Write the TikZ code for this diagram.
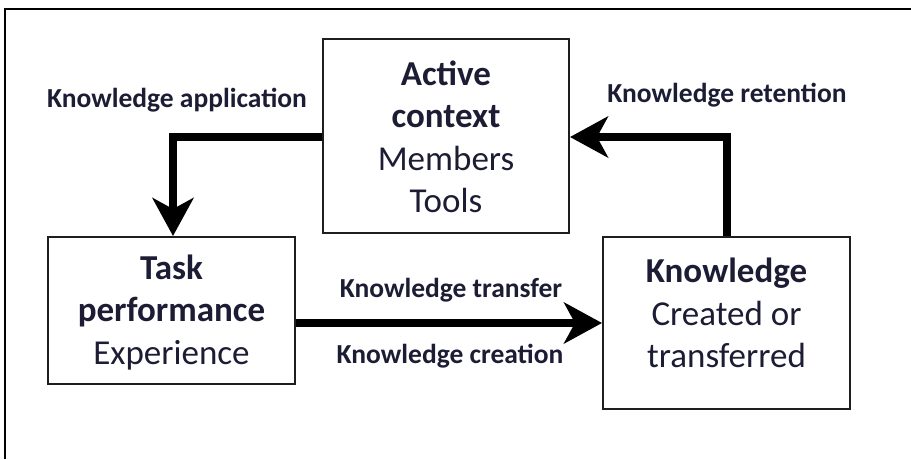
\documentclass[tikz,border=0pt]{standalone}
\usepackage{fontspec}
\setmainfont{Carlito}
\usetikzlibrary{arrows.meta}
\definecolor{labelink}{RGB}{28,28,52}
\definecolor{boxline}{RGB}{30,30,30}
\tikzset{
  box/.style={draw=boxline, line width=2pt, minimum width=247pt, inner sep=0pt},
  boxtext/.style={align=center, font=\fontsize{35}{42.5}\selectfont, text=labelink, inner sep=0pt},
  flowlabel/.style={font=\fontsize{27.5}{30}\selectfont\bfseries, text=labelink, inner sep=0pt},
  flow/.style={line width=8pt, -{Stealth[length=38pt, width=41pt, inset=11pt]}}
}
\begin{document}
\begin{tikzpicture}[x=1pt, y=-1pt]
  \useasboundingbox (0,0) rectangle (911,459);
  % partial outer frame
  \draw[line width=1.5pt] (5,459) -- (5,9) -- (911,9);

  % boxes
  \node[box, minimum width=246pt, minimum height=194pt] (active) at (446,136) {};
  \node[box, minimum height=147pt] (task) at (171.5,310.5) {};
  \node[box, minimum height=172pt] (know) at (726.5,323) {};

  % box texts
  \node[boxtext] (activetxt) at (446,137) {\textbf{Active}\\\textbf{context}\\Members\\Tools};
  \node[boxtext] (tasktxt) at (171.5,312.5) {\textbf{Task}\\\textbf{performance}\\Experience};
  \node[boxtext] (knowtxt) at (726.5,313) {\textbf{Knowledge}\\Created or\\transferred};

  % connector bends
  \coordinate (appcorner) at (173,137);
  \coordinate (retcorner) at (726.5,137);

  % connectors
  \draw[flow] (active.west |- appcorner) -- (appcorner) -- (task.north -| appcorner);
  \draw[flow] (know.north) -- (retcorner) -- (active.east |- retcorner);
  \draw[flow] (task.east |- know.center) -- (know.west);

  % connector labels
  \node[flowlabel] (lapp) at (177,100) {Knowledge application};
  \node[flowlabel] (lret) at (727,95) {Knowledge retention};
  \node[flowlabel] (ltrans) at (451,290) {Knowledge transfer};
  \node[flowlabel] (lcreat) at (450,356) {Knowledge creation};
\end{tikzpicture}
\end{document}
